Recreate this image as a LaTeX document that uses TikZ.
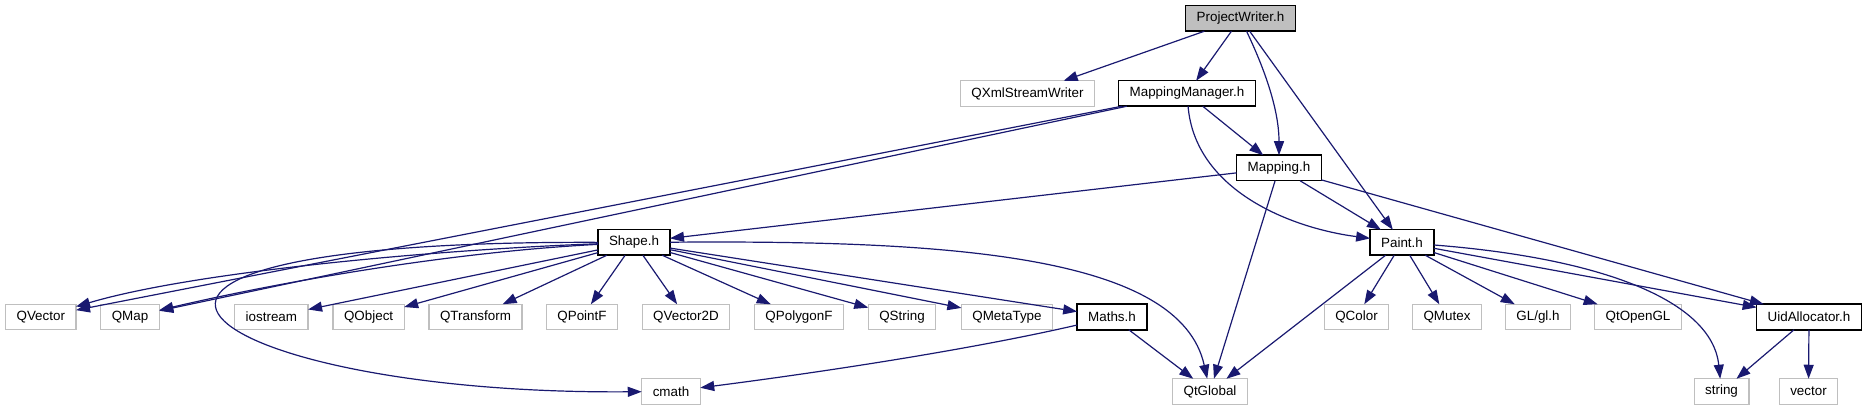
\documentclass[tikz,border=0pt]{standalone}
\usepackage{fontspec}
\setmainfont{Liberation Sans}
\usetikzlibrary{arrows.meta}
\definecolor{edgeblue}{HTML}{191970}
\definecolor{grey75}{HTML}{BFBFBF}

\begin{document}
\begin{tikzpicture}[x=1pt, y=-1pt,
  every node/.style = {rectangle, fill=white, inner xsep=11pt, inner ysep=0pt,
                       minimum height=25.5pt, outer sep=0pt,
                       font=\fontsize{13.4}{15}\selectfont},
  lib/.style = {draw=grey75, line width=1.2pt},
  hdr/.style = {draw=black, line width=1.5pt},
  top/.style = {hdr, fill=grey75},
  inc/.style = {draw=edgeblue, line width=1.2pt,
                -{Triangle[length=14pt, width=10pt]}},
  ]
  \useasboundingbox (0,0) rectangle (1867,411);
  % rows 1 to 4
  \node[top] (n1ProjectWriter)    at (1240.5,18.5) {ProjectWriter.h};
  \node[lib] (n2QXmlStreamWriter) at (1027.5,93.5) {QXmlStreamWriter};
  \node[hdr] (n3MappingManager)   at (1187,93.5)   {MappingManager.h};
  \node[hdr] (n4Mapping)          at (1279,168)    {Mapping.h};
  \node[hdr] (n5Shape)            at (634,242.5)   {Shape.h};
  \node[hdr] (n6Paint)            at (1402,242.5)  {Paint.h};
  % row 5
  \node[lib] (n7QVector)      at (40.8,317)   {QVector};
  \node[lib] (n8QMap)         at (130,317)    {QMap};
  \node[lib] (n9iostream)     at (271.4,317)  {iostream};
  \node[lib] (n10QObject)     at (368.6,317)  {QObject};
  \node[lib] (n11QTransform)  at (475.5,317)  {QTransform};
  \node[lib] (n12QPointF)     at (582,317)    {QPointF};
  \node[lib] (n13QVector2D)   at (686,317)    {QVector2D};
  \node[lib] (n14QPolygonF)   at (799,317)    {QPolygonF};
  \node[lib] (n15QString)     at (902,317)    {QString};
  \node[lib] (n16QMetaType)   at (1007,317)   {QMetaType};
  \node[hdr] (n17Maths)       at (1112,317)   {Maths.h};
  \node[lib] (n18QColor)      at (1356.5,317) {QColor};
  \node[lib] (n19QMutex)      at (1447,317)   {QMutex};
  \node[lib] (n20GLgl)        at (1538,317)   {GL/gl.h};
  \node[lib] (n21QtOpenGL)    at (1638,317)   {QtOpenGL};
  \node[hdr] (n22UidAllocator) at (1809,317)  {UidAllocator.h};
  % row 6
  \node[lib] (n23cmath)    at (671,391.5)    {cmath};
  \node[lib] (n24QtGlobal) at (1210,391.5)   {QtGlobal};
  \node[lib] (n25string)   at (1721.5,391.5) {string};
  \node[lib] (n26vector)   at (1808.5,391.5) {vector};

  % ProjectWriter.h
  \draw[inc] (n1ProjectWriter) -- (n2QXmlStreamWriter);
  \draw[inc] (n1ProjectWriter) -- (n3MappingManager);
  \draw[inc] (n1ProjectWriter) .. controls (1265,70) and (1279,110) .. (n4Mapping);
  \draw[inc] (n1ProjectWriter) -- (n6Paint);
  % MappingManager.h
  \draw[inc] (n3MappingManager) -- (n7QVector);
  \draw[inc] (n3MappingManager) -- (n8QMap);
  \draw[inc] (n3MappingManager) -- (n4Mapping);
  \draw[inc] (n3MappingManager) .. controls (1195,190) and (1290,228) .. (n6Paint);
  % Mapping.h
  \draw[inc] (n4Mapping) -- (n5Shape);
  \draw[inc] (n4Mapping) -- (n6Paint);
  \draw[inc] (n4Mapping) -- (n22UidAllocator);
  \draw[inc] (n4Mapping) -- (n24QtGlobal);
  % Shape.h
  \draw[inc] (n5Shape) .. controls (450,249) and (200,270) .. (n7QVector);
  \draw[inc] (n5Shape) .. controls (450,252) and (280,282) .. (n8QMap);
  \draw[inc] (n5Shape) .. controls (-20,240) and (200,395) .. (n23cmath);
  \draw[inc] (n5Shape) -- (n9iostream);
  \draw[inc] (n5Shape) -- (n10QObject);
  \draw[inc] (n5Shape) -- (n11QTransform);
  \draw[inc] (n5Shape) -- (n12QPointF);
  \draw[inc] (n5Shape) -- (n13QVector2D);
  \draw[inc] (n5Shape) -- (n14QPolygonF);
  \draw[inc] (n5Shape) -- (n15QString);
  \draw[inc] (n5Shape) -- (n16QMetaType);
  \draw[inc] (n5Shape) -- (n17Maths);
  \draw[inc] (n5Shape) .. controls (950,240) and (1180,255) .. (n24QtGlobal);
  % Paint.h
  \draw[inc] (n6Paint) -- (n24QtGlobal);
  \draw[inc] (n6Paint) -- (n18QColor);
  \draw[inc] (n6Paint) -- (n19QMutex);
  \draw[inc] (n6Paint) -- (n20GLgl);
  \draw[inc] (n6Paint) -- (n21QtOpenGL);
  \draw[inc] (n6Paint) -- (n22UidAllocator);
  \draw[inc] (n6Paint) .. controls (1600,258) and (1712,300) .. (n25string);
  % Maths.h and UidAllocator.h
  \draw[inc] (n17Maths) .. controls (960,352) and (800,375) .. (n23cmath);
  \draw[inc] (n17Maths) -- (n24QtGlobal);
  \draw[inc] (n22UidAllocator) -- (n25string);
  \draw[inc] (n22UidAllocator) -- (n26vector);
\end{tikzpicture}
\end{document}
